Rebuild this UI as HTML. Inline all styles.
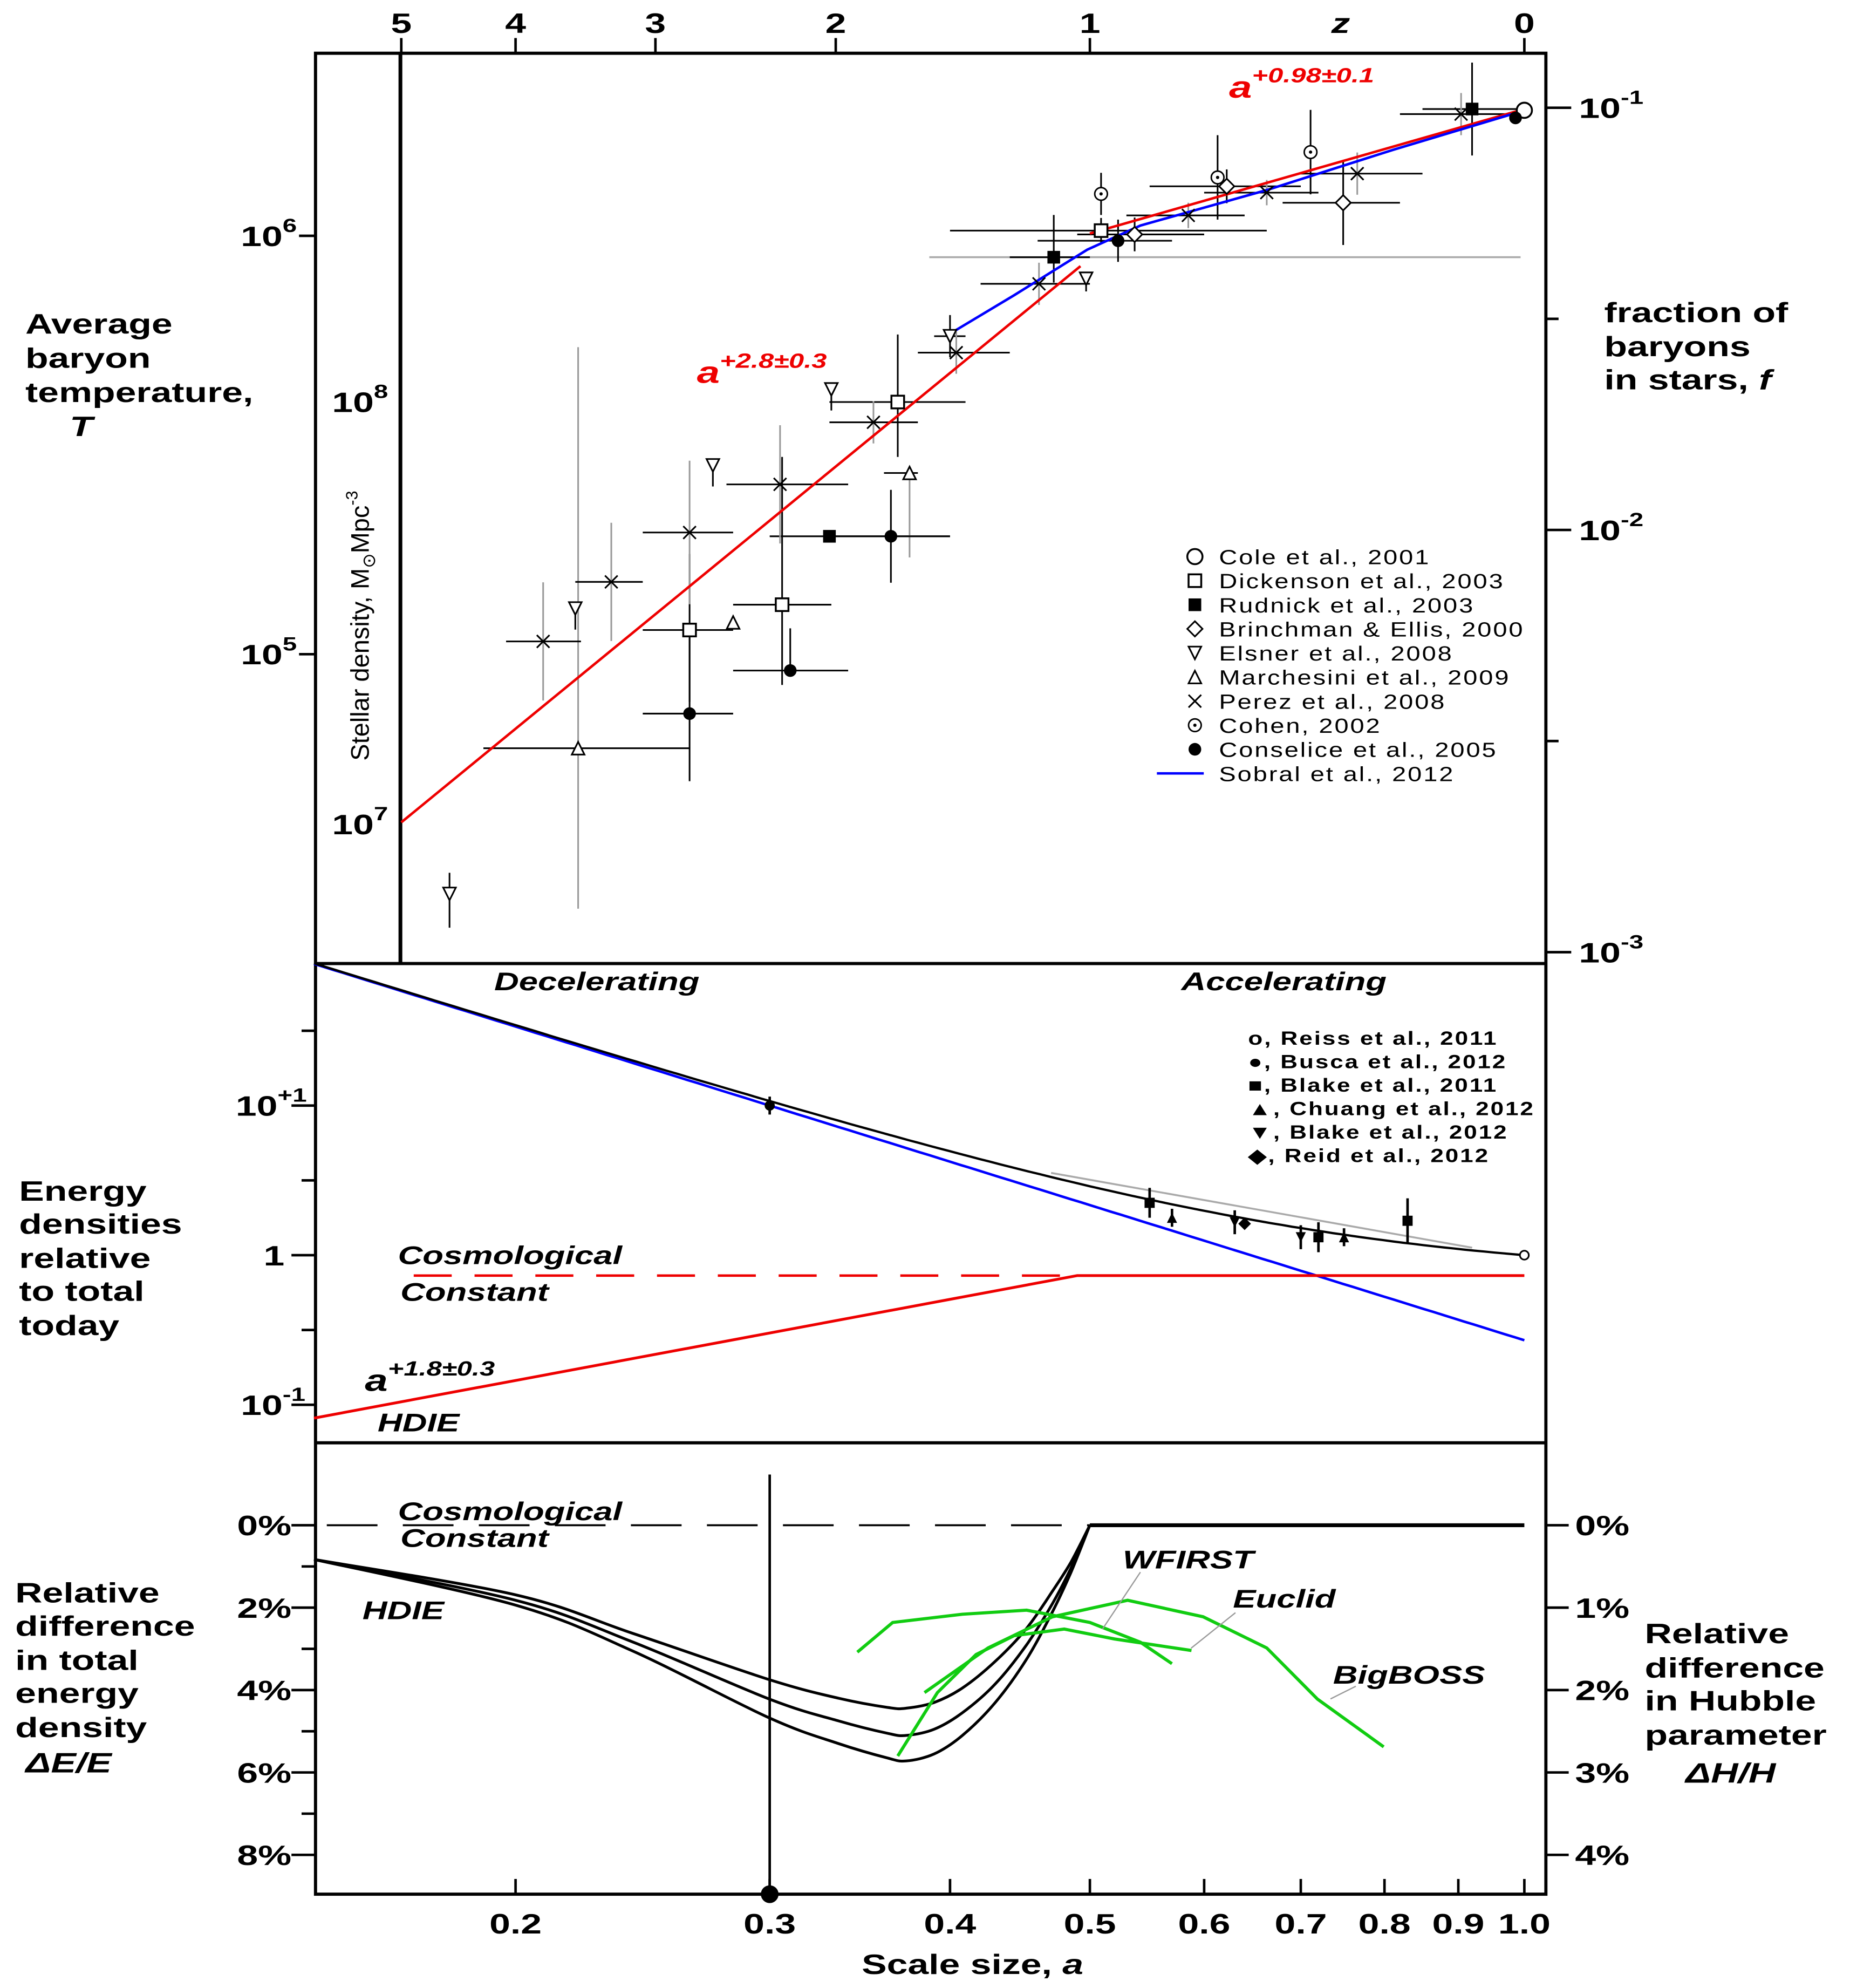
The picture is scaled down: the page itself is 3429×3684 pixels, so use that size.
<!DOCTYPE html>
<html><head><meta charset="utf-8"><style>
html,body{margin:0;padding:0;background:#fff}
svg{display:block}
text{font-family:"Liberation Sans",sans-serif;font-weight:bold;fill:#000}
</style></head><body>
<svg id="chart" width="3429" height="3684" viewBox="0 0 1460 1568" preserveAspectRatio="none" xmlns="http://www.w3.org/2000/svg">
<g id="frame">
<rect x="249" y="42" width="971" height="1452" fill="none" stroke="#000" stroke-width="2.5"/>
<line x1="249" y1="760" x2="1220" y2="760" stroke="#000" stroke-width="2.5"/>
<line x1="249" y1="1138" x2="1220" y2="1138" stroke="#000" stroke-width="2.5"/>
<line x1="316" y1="42" x2="316" y2="760" stroke="#000" stroke-width="3"/>
</g>
<text x="20" y="263" font-size="22">Average</text>
<text x="20" y="290" font-size="22">baryon</text>
<text x="20" y="317" font-size="22">temperature,</text>
<text x="55" y="344" font-size="22" font-style="italic">T</text>
<text x="1266" y="254" font-size="22">fraction of</text>
<text x="1266" y="281" font-size="22">baryons</text>
<text x="1266" y="307" font-size="22">in stars, <tspan font-style="italic">f</tspan></text>
<text class="norot" transform="translate(291,600) rotate(-90)" font-size="20" style="font-weight:normal">Stellar density, M<tspan font-size="14" dy="5">⊙</tspan><tspan dy="-5">Mpc</tspan><tspan font-size="13" dy="-9">-3</tspan></text>
<text x="15" y="947" font-size="22">Energy</text>
<text x="15" y="973" font-size="22">densities</text>
<text x="15" y="1000" font-size="22">relative</text>
<text x="15" y="1026" font-size="22">to total</text>
<text x="15" y="1053" font-size="22">today</text>
<text x="12" y="1264" font-size="22">Relative</text>
<text x="12" y="1290" font-size="22">difference</text>
<text x="12" y="1317" font-size="22">in total</text>
<text x="12" y="1343" font-size="22">energy</text>
<text x="12" y="1370" font-size="22">density</text>
<text x="20" y="1398" font-size="22" font-style="italic">ΔE/E</text>
<text x="1298" y="1296" font-size="22">Relative</text>
<text x="1298" y="1323" font-size="22">difference</text>
<text x="1298" y="1349" font-size="22">in Hubble</text>
<text x="1298" y="1376" font-size="22">parameter</text>
<text x="1330" y="1406" font-size="22" font-style="italic">ΔH/H</text>
<text x="680" y="1557" font-size="22">Scale size, <tspan font-style="italic">a</tspan></text>
<text x="390" y="781" font-size="20" font-style="italic">Decelerating</text>
<text x="932" y="781" font-size="20" font-style="italic">Accelerating</text>
<text x="314" y="997" font-size="20" font-style="italic">Cosmological</text>
<text x="316" y="1026" font-size="20" font-style="italic">Constant</text>
<text x="288" y="1097" font-size="24" font-style="italic">a<tspan font-size="16" dy="-12">+1.8±0.3</tspan></text>
<text x="298" y="1129" font-size="20" font-style="italic">HDIE</text>
<text x="314" y="1199" font-size="20" font-style="italic">Cosmological</text>
<text x="316" y="1220" font-size="20" font-style="italic">Constant</text>
<text x="286" y="1277" font-size="20" font-style="italic">HDIE</text>
<text x="886" y="1237" font-size="20" font-style="italic">WFIRST</text>
<text x="973" y="1268" font-size="20" font-style="italic">Euclid</text>
<text x="1052" y="1328" font-size="20" font-style="italic">BigBOSS</text>
<text x="550" y="302" font-size="24" font-style="italic" style="fill:#e00">a<tspan font-size="16" dy="-12">+2.8±0.3</tspan></text>
<text x="970" y="77" font-size="24" font-style="italic" style="fill:#e00">a<tspan font-size="16" dy="-12">+0.98±0.1</tspan></text>
<g id="plot"></g>
</svg>
<script>
// ---- data ----
const zTicks=[5,4,3,2,1,0];
const aTicks=[0.2,0.3,0.4,0.5,0.6,0.7,0.8,0.9,1.0];
const aTickLabels=["0.2","0.3","0.4","0.5","0.6","0.7","0.8","0.9","1.0"];
const series=["Cole","Dickenson","Rudnick","Brinchman","Elsner","Marchesini","Perez","Cohen","Conselice"];
const legendLabels=["Cole et al., 2001","Dickenson et al., 2003","Rudnick et al., 2003","Brinchman & Ellis, 2000","Elsner et al., 2008","Marchesini et al., 2009","Perez et al., 2008","Cohen, 2002","Conselice et al., 2005","Sobral et al., 2012"];
// [seriesIndex, a, log10 f, aLo, aHi, dexDown, dexUp]
const starPoints=[
[0,1.0,-1.006,1,1,0,0],
[1,0.509,-1.291,0.40,0.663,0.03,0.03],[1,0.368,-1.697,0.330,0.410,0.13,0.16],[1,0.306,-2.177,0.283,0.331,0.19,0.35],[1,0.264,-2.237,0.245,0.283,0.17,0.18],
[2,0.920,-1.003,0.85,0.99,0.11,0.11],[2,0.472,-1.354,0.44,0.50,0.06,0.1],[2,0.330,-2.015,0.30,0.40,0,0],
[3,0.622,-1.186,0.55,0.70,0.04,0.04],[3,0.749,-1.225,0.68,0.82,0.1,0.1],[3,0.537,-1.300,0.49,0.60,0.04,0.04],
[4,0.400,-1.541,0.39,0.41,0.05,0.05],[4,0.331,-1.667,0.331,0.331,0.05,0],[4,0.274,-1.847,0.274,0.274,0.05,0],[4,0.220,-2.186,0.220,0.220,0.05,0],[4,0.180,-2.862,0.18,0.18,0.08,0.05],[4,0.497,-1.405,0.497,0.497,0.03,0],
[5,0.375,-1.865,0.36,0.38,0.2,0],[5,0.283,-2.219,0.283,0.283,0,0],[5,0.221,-2.517,0.19,0.264,0.38,0.95],
[6,0.904,-1.015,0.82,1.0,0.05,0.05],[6,0.766,-1.156,0.70,0.85,0.05,0.05],[6,0.663,-1.201,0.60,0.72,0.03,0.03],[6,0.585,-1.255,0.53,0.64,0.03,0.03],[6,0.461,-1.417,0.42,0.50,0.05,0.05],[6,0.404,-1.580,0.38,0.44,0.05,0.05],[6,0.354,-1.745,0.33,0.38,0.05,0.05],[6,0.305,-1.892,0.28,0.34,0.14,0.14],[6,0.264,-2.006,0.245,0.283,0.17,0.17],[6,0.233,-2.123,0.22,0.245,0.14,0.14],[6,0.209,-2.264,0.197,0.222,0.14,0.14],
[7,0.711,-1.105,0.711,0.711,0.1,0.1],[7,0.613,-1.165,0.613,0.613,0.1,0.1],[7,0.509,-1.204,0.509,0.509,0.05,0.05],
[8,0.986,-1.024,0.986,0.986,0,0],[8,0.523,-1.315,0.46,0.57,0.05,0.05],[8,0.364,-2.015,0.33,0.40,0.11,0.11],[8,0.310,-2.333,0.283,0.34,0,0.1],[8,0.264,-2.435,0.245,0.283,0.16,0.18]
];
const sobralA=[0.4,0.443,0.498,0.542,0.663,0.812,0.994];
const sobralLogF=[-1.535,-1.444,-1.336,-1.279,-1.195,-1.099,-1.009];
const slopeEarly=2.8, slopeLate=0.98, breakA=0.5;
const omegaM=0.27, omegaL=0.73, hdieSlope=1.8, hdieBreak=0.49;
const energyLegend=["o, Reiss et al., 2011","●, Busca et al., 2012","■, Blake et al., 2011","▲, Chuang et al., 2012","▼, Blake et al., 2012","◆, Reid et al., 2012"];
// [type, a, log10 rho, dexErr]
const energyPoints=[["c",1.0,0,0],["f",0.3,1.0,0.06],["s",0.55,0.35,0.1],["s",0.72,0.12,0.1],["s",0.83,0.23,0.15],["u",0.57,0.25,0.06],["u",0.75,0.12,0.06],["d",0.63,0.22,0.08],["d",0.70,0.12,0.08],["r",0.64,0.21,0.03]];
const curveA=[0.145,0.2,0.241,0.3,0.335,0.362,0.373,0.39,0.408,0.43,0.452,0.471,0.485,0.5];
const dE1=[0.83,1.69,2.62,3.75,4.2,4.42,4.44,4.3,3.95,3.3,2.5,1.6,0.9,0];
const dE2=[0.83,1.82,2.83,4.22,4.75,5.05,5.1,4.95,4.55,3.85,2.9,1.9,1.05,0];
const dE3=[0.83,1.94,3.05,4.68,5.3,5.65,5.72,5.55,5.1,4.3,3.25,2.1,1.15,0];
const wfA=[0.345,0.365,0.408,0.452,0.5,0.542,0.570];
const wfH=[1.54,1.18,1.08,1.03,1.18,1.42,1.68];
const euA=[0.368,0.392,0.417,0.443,0.480,0.520,0.588];
const euH=[2.8,2.03,1.57,1.34,1.26,1.38,1.52];
const bbA=[0.384,0.425,0.471,0.531,0.599,0.663,0.719,0.799];
const bbH=[2.03,1.49,1.11,0.91,1.11,1.49,2.11,2.69];
// ---- scales ----
const X=a=>1203+Math.log10(a)*1139;
const YF=l=>85+(-1-l)*333;
const YE=l=>990-l*118;
const YdE=p=>1203+p*32.5;
const YdH=p=>1203+p*65;
const NS="http://www.w3.org/2000/svg";
const plot=document.getElementById('plot');
function el(t,at,txt){const e=document.createElementNS(NS,t);for(const k in at)e.setAttribute(k,at[k]);if(txt!==undefined)e.textContent=txt;plot.appendChild(e);return e;}
function poly(xs,ys,stroke,w,dash){const p=xs.map((v,i)=>v.toFixed(1)+','+ys[i].toFixed(1)).join(' ');const e=el('polyline',{points:p,fill:'none',stroke:stroke,'stroke-width':w});if(dash)e.setAttribute('stroke-dasharray',dash);return e;}
function smooth(xs,ys,stroke,w){let d='M'+xs[0]+','+ys[0];
 for(let i=0;i<xs.length-1;i++){const x0=xs[Math.max(i-1,0)],y0=ys[Math.max(i-1,0)],x3=xs[Math.min(i+2,xs.length-1)],y3=ys[Math.min(i+2,xs.length-1)];
  const c1x=xs[i]+(xs[i+1]-x0)/6,c1y=ys[i]+(ys[i+1]-y0)/6,c2x=xs[i+1]-(x3-xs[i])/6,c2y=ys[i+1]-(y3-ys[i])/6;
  d+=` C${c1x.toFixed(1)},${c1y.toFixed(1)} ${c2x.toFixed(1)},${c2y.toFixed(1)} ${xs[i+1].toFixed(1)},${ys[i+1].toFixed(1)}`;}
 return el('path',{d:d,fill:'none',stroke:stroke,'stroke-width':w});}
// z ticks
zTicks.forEach(z=>{const x=X(1/(1+z));
 const t=el('line',{x1:x,y1:42,x2:x,y2:30,stroke:'#000','stroke-width':2});
 
 const l=el('text',{x:x,y:26,'font-size':22,'text-anchor':'middle'},String(z));
 });
const zl=el('text',{x:1058,y:26,'font-size':22,'font-style':'italic','text-anchor':'middle'},'z');

// a ticks
aTicks.forEach((a,i)=>{const x=X(a);
 const t=el('line',{x1:x,y1:1494,x2:x,y2:1482,stroke:'#000','stroke-width':2});
 
 const l=el('text',{x:x,y:1525,'font-size':22,'text-anchor':'middle'},aTickLabels[i]);
 });
function supLabel(x,y,base,exp,name){const t=el('text',{x:x,y:y,'font-size':22});t.innerHTML=base+'<tspan font-size="15" dy="-11">'+exp+'</tspan>';
 return t;}
supLabel(190,194,'10','6','temperature-tick-1e6');supLabel(190,524,'10','5','temperature-tick-1e5');
supLabel(262,325,'10','8','density-tick-1e8');supLabel(262,658,'10','7','density-tick-1e7');
[-1,-2,-3].forEach(l=>{const y=YF(l);const t=el('line',{x1:1220,y1:y,x2:1240,y2:y,stroke:'#000','stroke-width':2});
 
 supLabel(1246,y+8,'10',String(l),'fraction-tick-label');});
[-1.5,-2.5].forEach(l=>{const y=YF(l);const t=el('line',{x1:1220,y1:y,x2:1230,y2:y,stroke:'#000','stroke-width':2});});
[186,516].forEach(y=>{const t=el('line',{x1:236,y1:y,x2:249,y2:y,stroke:'#000','stroke-width':2});});
const gb=el('line',{x1:X(0.387),y1:YF(-1.354),x2:X(0.994),y2:YF(-1.354),stroke:'#aaa','stroke-width':1.5});
starPoints.forEach(p=>{const x=X(p[1]),y=YF(p[2]);const col=(p[0]==6||p[0]==5)?'#999':'#000';
 if(p[5]||p[6]){const e=el('line',{x1:x,y1:YF(p[2]-p[5]),x2:x,y2:YF(p[2]+p[6]),stroke:col,'stroke-width':1.3});}
 if(p[3]!=p[4]){const e=el('line',{x1:X(p[3]),y1:y,x2:X(p[4]),y2:y,stroke:'#000','stroke-width':1.3});}});
const re=poly([X(1/6),X(breakA*0.985)],[YF(-1.375-slopeEarly*Math.log10(breakA*0.985/(1/6))),YF(-1.375)],'#e00',2);

const rl=poly([X(breakA),X(1)],[YF(-1.003-slopeLate*Math.log10(1/breakA)),YF(-1.003)],'#e00',2);

const sb=poly(sobralA.map(X),sobralLogF.map(YF),'#00f',2);
function marker(s,x,y,sz){let e;const r=sz||5;
 switch(s){
 case 0:e=el('circle',{cx:x,cy:y,r:r+1,fill:'#fff',stroke:'#000','stroke-width':1.5});break;
 case 1:e=el('rect',{x:x-r,y:y-r,width:2*r,height:2*r,fill:'#fff',stroke:'#000','stroke-width':1.5});break;
 case 2:e=el('rect',{x:x-r,y:y-r,width:2*r,height:2*r,fill:'#000'});break;
 case 3:e=el('polygon',{points:`${x},${y-r-1} ${x+r+1},${y} ${x},${y+r+1} ${x-r-1},${y}`,fill:'#fff',stroke:'#000','stroke-width':1.3});break;
 case 4:e=el('polygon',{points:`${x-r},${y-r} ${x+r},${y-r} ${x},${y+r}`,fill:'#fff',stroke:'#000','stroke-width':1.3});break;
 case 5:e=el('polygon',{points:`${x-r},${y+r} ${x+r},${y+r} ${x},${y-r}`,fill:'#fff',stroke:'#000','stroke-width':1.3});break;
 case 6:e=el('path',{d:`M${x-r},${y-r}L${x+r},${y+r}M${x+r},${y-r}L${x-r},${y+r}`,stroke:'#000','stroke-width':1.3});break;
 case 7:e=el('circle',{cx:x,cy:y,r:r,fill:'#fff',stroke:'#000','stroke-width':1.2});el('circle',{cx:x,cy:y,r:1.3,fill:'#000'});break;
 case 8:e=el('circle',{cx:x,cy:y,r:r,fill:'#000'});break;}
 return e;}
starPoints.forEach(p=>{const m=marker(p[0],X(p[1]),YF(p[2]));});
legendLabels.forEach((t,i)=>{const y=444+i*19;
 if(i<9){const m=marker(i,943,y-5,5);}
 else{const m=el('line',{x1:913,y1:y-5,x2:950,y2:y-5,stroke:'#00f','stroke-width':2});}
 const l=el('text',{x:962,y:y+1,'font-size':16,style:'font-weight:normal;letter-spacing:1px'},t);
 });
supLabel(186,880,'10','+1','energy-tick-10');
const one=el('text',{x:208,y:998,'font-size':22},'1');
supLabel(190,1116,'10','-1','energy-tick-0.1');
[1.5,1,0.5,0,-0.5,-1].forEach(l=>{const y=YE(l);const t=el('line',{x1:Number.isInteger(l)?230:238,y1:y,x2:249,y2:y,stroke:'#000','stroke-width':2});});
const aGrid=[];for(let i=0;i<=120;i++)aGrid.push(Math.pow(10,Math.log10(0.145)*(1-i/120)));
const mat=poly(aGrid.map(X),aGrid.map(a=>YE(Math.log10(omegaM*Math.pow(a,-3)))),'#00f',2);
const tot=poly(aGrid.map(X),aGrid.map(a=>YE(Math.log10(omegaM*Math.pow(a,-3)+omegaL))),'#000',1.8);
const gray=poly([X(0.47),X(0.92)],[YE(0.55),YE(0.05)],'#aaa',1.5);
const cc=poly([X(0.17),X(0.49)],[YE(Math.log10(omegaL)),YE(Math.log10(omegaL))],'#e00',2,'30,18');
const hd=poly([X(0.145),X(hdieBreak),X(1)],[YE(Math.log10(omegaL)-hdieSlope*Math.log10(hdieBreak/0.145)),YE(Math.log10(omegaL)),YE(Math.log10(omegaL))],'#e00',2.2);
energyPoints.forEach(p=>{const x=X(p[1]),y=YE(p[2]);
 if(p[3]){const e=el('line',{x1:x,y1:YE(p[2]-p[3]),x2:x,y2:YE(p[2]+p[3]),stroke:'#000','stroke-width':2});}
 let m;const r=4;
 if(p[0]=='c')m=el('circle',{cx:x,cy:y,r:3.5,fill:'#fff',stroke:'#000','stroke-width':1.3});
 else if(p[0]=='f')m=el('circle',{cx:x,cy:y,r:4,fill:'#000'});
 else if(p[0]=='s')m=el('rect',{x:x-r,y:y-r,width:8,height:8,fill:'#000'});
 else if(p[0]=='u')m=el('polygon',{points:`${x-r},${y+r} ${x+r},${y+r} ${x},${y-r}`,fill:'#000'});
 else if(p[0]=='d')m=el('polygon',{points:`${x-r},${y-r} ${x+r},${y-r} ${x},${y+r}`,fill:'#000'});
 else m=el('polygon',{points:`${x},${y-r-1} ${x+r+1},${y} ${x},${y+r+1} ${x-r-1},${y}`,fill:'#000'});
 });
energyLegend.forEach((t,i)=>{const l=el('text',{x:985,y:824+i*18.5,'font-size':15,style:'letter-spacing:1px'},t);});
[0,2,4,6,8].forEach(p=>{const y=YdE(p);const t=el('line',{x1:230,y1:y,x2:249,y2:y,stroke:'#000','stroke-width':2});
 const l=el('text',{x:230,y:y+8,'font-size':22,'text-anchor':'end'},p+'%');});
[1,3,5,7].forEach(p=>{const y=YdE(p);const t=el('line',{x1:238,y1:y,x2:249,y2:y,stroke:'#000','stroke-width':2});});
[0,1,2,3,4].forEach(p=>{const y=YdH(p);const t=el('line',{x1:1220,y1:y,x2:1238,y2:y,stroke:'#000','stroke-width':2});
 const l=el('text',{x:1243,y:y+8,'font-size':22},p+'%');});
const bz=poly([X(0.148),X(0.5)],[YdE(0),YdE(0)],'#000',1.5,'40,20');
const bz2=poly([X(0.5),X(1)],[YdE(0),YdE(0)],'#000',3);
[dE1,dE2,dE3].forEach((d,i)=>{const c=smooth(curveA.map(X),d.map(YdE),'#000',2.2);});
const wf=poly(wfA.map(X),wfH.map(YdH),'#1c1',2.5);
const eu=poly(euA.map(X),euH.map(YdH),'#1c1',2.5);
const bb=poly(bbA.map(X),bbH.map(YdH),'#1c1',2.5);
[[870,1285,900,1240],[940,1300,975,1272],[1050,1340,1070,1330]].forEach(q=>{const e=el('line',{x1:q[0],y1:q[1],x2:q[2],y2:q[3],stroke:'#999','stroke-width':1});});
const vl=el('line',{x1:X(0.3),y1:1163,x2:X(0.3),y2:1494,stroke:'#000','stroke-width':2});
const vd=el('circle',{cx:X(0.3),cy:1494,r:7,fill:'#000'});
// widen text horizontally to match reference's extended typeface
document.querySelectorAll('#chart text').forEach(t=>{
 if(t.classList.contains('norot'))return;
 const anc=t.getAttribute('text-anchor')||'start';
 const s=t.getAttribute('font-size')<=16?1.25:1.35;
 t.style.transformBox='fill-box';
 t.style.transformOrigin=anc=='middle'?'center':(anc=='end'?'right':'left');
 t.style.transform='scaleX('+s+')';
});
</script>
</body></html>
